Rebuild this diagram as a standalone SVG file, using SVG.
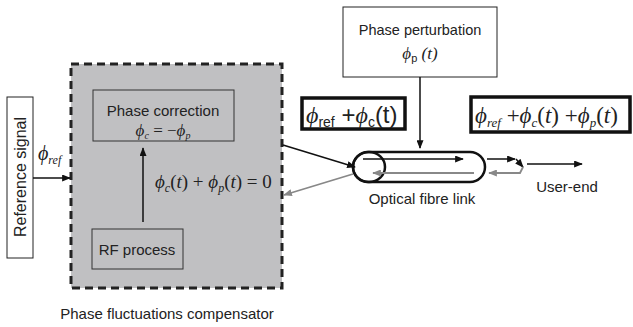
<svg xmlns="http://www.w3.org/2000/svg" width="633" height="327" viewBox="0 0 633 327">
<defs>
<style>
.lbl{font-family:"Liberation Sans",Arial,sans-serif;font-size:15px;fill:#222}
.m{font-family:"Liberation Serif","Times New Roman",serif;font-style:italic;fill:#222}
.ms{font-family:"Liberation Sans",Arial,sans-serif;fill:#222}
.box{fill:#fff;stroke:#222;stroke-width:1}
.ibox{fill:none;stroke:#333;stroke-width:1}
.tbox{fill:#fff;stroke:#111;stroke-width:3.5}
.c{fill:none;stroke:#111;stroke-width:1.5}
.g{fill:none;stroke:#888;stroke-width:1.8}
</style>
<marker id="ab" viewBox="0 0 10 8" refX="9" refY="4" markerWidth="9" markerHeight="7" markerUnits="userSpaceOnUse" orient="auto"><path d="M0,0 L10,4 L0,8 z" fill="#111"/></marker>
<marker id="ag" viewBox="0 0 10 8" refX="9" refY="4" markerWidth="9" markerHeight="7" markerUnits="userSpaceOnUse" orient="auto"><path d="M0,0 L10,4 L0,8 z" fill="#888"/></marker>
</defs>
<rect width="633" height="327" fill="#fff"/>

<g id="compensator">
<rect x="71" y="64" width="211" height="224" fill="#c0c0c2" stroke="#222" stroke-width="3" stroke-dasharray="8,5"/>
<text class="lbl" x="167" y="319" text-anchor="middle">Phase fluctuations compensator</text>
<text class="m" x="155" y="188" font-size="19">ϕ<tspan font-size="12" dy="4">c</tspan><tspan dy="-4" font-style="normal">(</tspan>t<tspan font-style="normal">) + </tspan>ϕ<tspan font-size="12" dy="4">p</tspan><tspan dy="-4" font-style="normal">(</tspan>t<tspan font-style="normal">) = 0</tspan></text>
</g>

<g id="reference-signal">
<rect class="box" x="7" y="97" width="26" height="161"/>
<text class="lbl" transform="translate(26,177) rotate(-90)" text-anchor="middle" style="font-size:16px">Reference signal</text>
<text class="m" x="38" y="160" font-size="20">ϕ<tspan font-size="12" dy="4">ref</tspan></text>
</g>

<g id="phase-correction">
<rect class="ibox" x="93" y="90" width="141" height="51"/>
<text class="lbl" x="163" y="116" text-anchor="middle">Phase correction</text>
<text class="m" x="163" y="136" font-size="17" text-anchor="middle">ϕ<tspan font-size="10" dy="3">c</tspan><tspan dy="-3" font-style="normal"> = −</tspan>ϕ<tspan font-size="10" dy="3">p</tspan></text>
</g>

<g id="rf-process">
<rect class="ibox" x="92" y="229" width="91" height="40"/>
<text class="lbl" x="137" y="255" text-anchor="middle">RF process</text>
</g>

<g id="phase-perturbation">
<rect class="box" x="343" y="7" width="154" height="70"/>
<text class="lbl" x="420" y="35" text-anchor="middle" style="font-size:14.5px">Phase perturbation</text>
<text class="m" x="420" y="59" font-size="17" text-anchor="middle">ϕ<tspan class="ms" font-style="normal" font-size="11" dy="3">p</tspan><tspan dy="-3"> (</tspan>t<tspan>)</tspan></text>
</g>

<g id="sum-box-1">
<rect class="tbox" x="302" y="98" width="103" height="31"/>
<text class="m" x="306" y="123" font-size="24">ϕ<tspan class="ms" font-style="normal" font-size="14" dy="4">ref</tspan><tspan class="ms" font-style="normal" dy="-4"> +</tspan>ϕ<tspan class="ms" font-style="normal" font-size="14" dy="4">c</tspan><tspan class="ms" font-style="normal" dy="-4">(t)</tspan></text>
</g>

<g id="sum-box-2">
<rect class="tbox" x="471" y="97" width="159" height="35"/>
<text class="m" x="475" y="123" font-size="23">ϕ<tspan font-size="13" dy="4">ref</tspan><tspan dy="-4" font-style="normal"> +</tspan>ϕ<tspan font-size="13" dy="4">c</tspan><tspan dy="-4" font-style="normal">(</tspan>t<tspan font-style="normal">) +</tspan>ϕ<tspan font-size="13" dy="4">p</tspan><tspan dy="-4" font-style="normal">(</tspan>t<tspan font-style="normal">)</tspan></text>
</g>

<g id="optical-fibre-link">
<rect x="353" y="152" width="132" height="30" rx="15" fill="none" stroke="#111" stroke-width="2.5"/>
<ellipse cx="369" cy="167" rx="16" ry="15" fill="none" stroke="#111" stroke-width="2.5"/>
<text class="lbl" x="422" y="204" text-anchor="middle">Optical fibre link</text>
</g>

<g id="user-end">
<text class="lbl" x="567" y="192" text-anchor="middle">User-end</text>
</g>

<g id="connectors">
<line class="c" x1="33" y1="178" x2="70" y2="178" marker-end="url(#ab)"/>
<line class="c" x1="143" y1="222" x2="143" y2="148" marker-end="url(#ab)"/>
<line class="c" x1="283" y1="145" x2="355" y2="167" marker-end="url(#ab)"/>
<line class="g" x1="353" y1="174" x2="284" y2="195" marker-end="url(#ag)"/>
<line class="c" x1="420" y1="77" x2="420" y2="148" marker-end="url(#ab)"/>
<line class="c" x1="363" y1="159" x2="463" y2="159" marker-end="url(#ab)"/>
<line class="g" x1="474" y1="173" x2="373" y2="173" marker-end="url(#ag)"/>
<line class="c" x1="487" y1="159" x2="515" y2="159" marker-end="url(#ab)"/>
<line class="c" x1="516" y1="159" x2="523" y2="167" marker-end="url(#ab)"/>
<polyline class="g" points="523,167 520,173 489,173" marker-end="url(#ag)"/>
<line class="c" x1="527" y1="164" x2="582" y2="164" marker-end="url(#ab)"/>
</g>
</svg>
